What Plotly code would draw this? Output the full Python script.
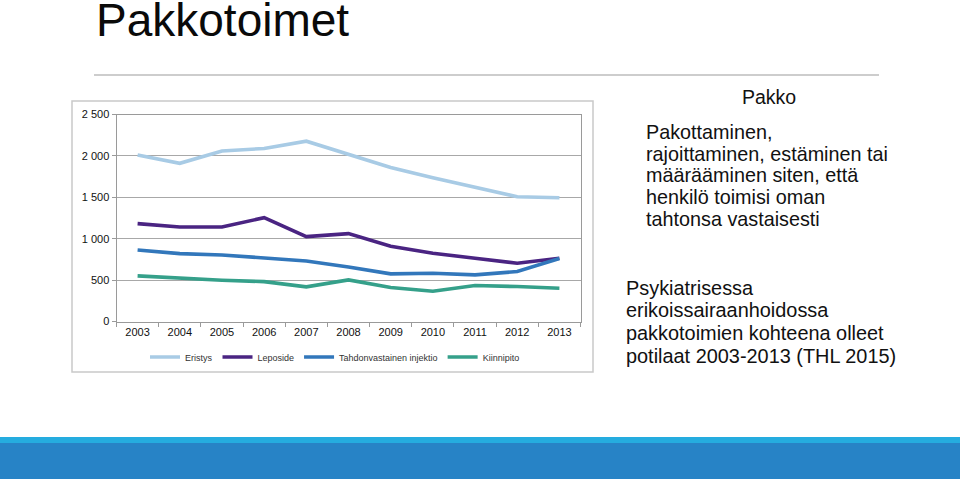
import plotly.graph_objects as go

W, H = 960, 479

years = ["2003", "2004", "2005", "2006", "2007", "2008", "2009", "2010", "2011", "2012", "2013"]
eristys = [2010, 1910, 2060, 2090, 2178, 2018, 1860, 1736, 1624, 1507, 1495]
leposide = [1182, 1141, 1141, 1254, 1025, 1061, 908, 824, 764, 703, 764]
injektio = [864, 820, 804, 764, 731, 659, 575, 583, 563, 603, 760]
kiinnipito = [551, 522, 498, 482, 418, 502, 410, 366, 434, 422, 402]

series_names = ["Eristys", "Leposide", "Tahdonvastainen injektio", "Kiinnipito"]
series_values = [eristys, leposide, injektio, kiinnipito]
series_colors = ["#a8cbe5", "#4a2482", "#3277bb", "#35a08a"]

y_ticks = [0, 500, 1000, 1500, 2000, 2500]

title_text = "Pakkotoimet"
heading_text = "Pakko"
para1 = ["Pakottaminen,", "rajoittaminen, estäminen tai", "määrääminen siten, että",
         "henkilö toimisi oman", "tahtonsa vastaisesti"]
para2 = ["Psykiatrisessa", "erikoissairaanhoidossa", "pakkotoimien kohteena olleet",
         "potilaat 2003-2013 (THL 2015)"]

FONT = "Liberation Sans, Arial, sans-serif"


def px(x):
    return x / W


def py(y):
    return (H - y) / H


fig = go.Figure()
for name, vals, col in zip(series_names, series_values, series_colors):
    fig.add_trace(go.Scatter(x=years, y=vals, name=name, mode="lines",
                             line=dict(color=col, width=3.6)))

plot_l, plot_r, plot_t, plot_b = 116.5, 580.5, 114.5, 321.5

fig.update_layout(
    width=W, height=H,
    margin=dict(l=0, r=0, t=0, b=0, pad=0, autoexpand=False),
    paper_bgcolor="white", plot_bgcolor="white",
    separators=", ",
    font=dict(family=FONT, color="#222"),
    showlegend=True,
    legend=dict(orientation="h", x=px(335), xanchor="center", y=py(357), yanchor="middle",
                font=dict(size=9, color="#333", family=FONT), bgcolor="rgba(0,0,0,0)",
                itemwidth=30, tracegroupgap=0),
    xaxis=dict(domain=[px(plot_l), px(plot_r)], type="category", range=[-0.5, 10.5],
               automargin=False,
               showgrid=False, showline=True, linecolor="#9a9a9a", linewidth=1,
               mirror=True, ticks="outside", tickson="boundaries", ticklen=4,
               tickcolor="#9a9a9a", tickfont=dict(size=11, color="#111", family=FONT),
               fixedrange=True),
    yaxis=dict(domain=[py(plot_b), py(plot_t)], range=[0, 2500], tickvals=y_ticks,
               automargin=False,
               tickformat=",d", showgrid=True, gridcolor="#a8a8a8", gridwidth=1,
               showline=True, linecolor="#9a9a9a", linewidth=1, mirror=True,
               ticks="outside", ticklen=4, tickcolor="#9a9a9a", zeroline=False,
               tickfont=dict(size=11, color="#111", family=FONT), fixedrange=True),
)

shapes = [
    # chart frame
    dict(type="rect", xref="paper", yref="paper", x0=px(72), x1=px(593), y0=py(372), y1=py(101),
         line=dict(color="#c9c9c9", width=1.5), layer="below"),
    # title underline
    dict(type="line", xref="paper", yref="paper", x0=px(94), x1=px(879), y0=py(75), y1=py(75),
         line=dict(color="#bdbdbd", width=1.5)),
    # bottom band
    dict(type="rect", xref="paper", yref="paper", x0=0, x1=1, y0=py(443), y1=py(437),
         line=dict(width=0), fillcolor="#25acdf"),
    dict(type="rect", xref="paper", yref="paper", x0=0, x1=1, y0=0, y1=py(443),
         line=dict(width=0), fillcolor="#2783c6"),
]
fig.update_layout(shapes=shapes)

ann = [dict(text=title_text, x=px(94), y=py(20), xref="paper", yref="paper",
            xanchor="left", yanchor="middle", showarrow=False,
            font=dict(size=46, color="#0a0a0a", family=FONT)),
       dict(text=heading_text, x=px(769), y=py(97), xref="paper", yref="paper",
            xanchor="center", yanchor="middle", showarrow=False,
            font=dict(size=19.5, color="#111", family=FONT))]
for i, line in enumerate(para1):
    ann.append(dict(text=line, x=px(644), y=py(131.7 + 21.8 * i), xref="paper", yref="paper",
                    xanchor="left", yanchor="middle", showarrow=False,
                    font=dict(size=19.8, color="#111", family=FONT)))
for i, line in enumerate(para2):
    ann.append(dict(text=line, x=px(624), y=py(287.7 + 22.8 * i), xref="paper", yref="paper",
                    xanchor="left", yanchor="middle", showarrow=False,
                    font=dict(size=19.9, color="#111", family=FONT)))
fig.update_layout(annotations=ann)

fig.write_html("out.html", config={"displayModeBar": False})
